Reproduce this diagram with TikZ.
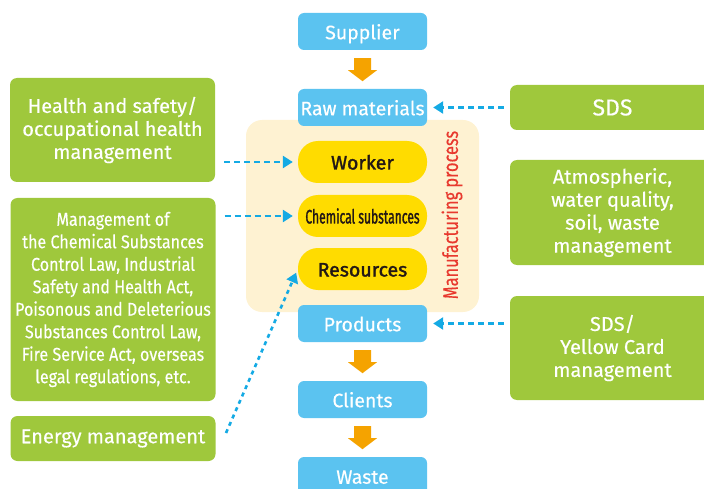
\documentclass[tikz,border=0pt]{standalone}
\usepackage{fontspec}
\setmainfont[FakeBold=0.35]{Fira Sans}
\newfontfamily\condfont[FakeStretch=0.87,FakeBold=0.35]{Fira Sans}
\newfontfamily\mpfont[FakeStretch=0.78,FakeBold=0.3]{Fira Sans}
\newfontfamily\yellowfont[FakeBold=1.6]{Fira Sans}
\newfontfamily\narrowfont[FakeStretch=0.62,FakeBold=1.4]{Fira Sans}
\usetikzlibrary{arrows.meta}
\definecolor{bluebox}{HTML}{5BC3F0}
\definecolor{greenbox}{HTML}{9FC83C}
\definecolor{yellowbox}{HTML}{FFDC00}
\definecolor{beige}{HTML}{FEF2D2}
\definecolor{arrowc}{HTML}{F5A300}
\definecolor{redc}{HTML}{E8392E}
\definecolor{linkc}{HTML}{14AAE4}
\definecolor{darktext}{HTML}{231815}
\tikzset{
  bluebox/.style={fill=bluebox, rounded corners=6, minimum width=129, minimum height=37,
    inner sep=0, text=white, text height=15.5, text depth=0, font=\fontsize{19.5}{22}\selectfont},
  greenbox/.style={fill=greenbox, rounded corners=7, minimum width=205, inner sep=0,
    text=white, align=center, font=\fontsize{20}{23}\selectfont},
  yellowbox/.style={fill=yellowbox, rounded corners=20, minimum width=129, minimum height=42,
    inner sep=0, text=darktext, text height=15, text depth=0, font=\yellowfont\fontsize{19.5}{22}\selectfont},
  link/.style={draw=linkc, line width=2.6, dash pattern=on 6 off 4,
    -{Triangle[length=10pt,width=12pt]}},
  downarrow/.pic={\fill[arrowc] (-8.5,0) -- (8.5,0) -- (8.5,12) -- (14.5,12) -- (0,23)
    -- (-14.5,12) -- (-8.5,12) -- cycle;}
}
\begin{document}
\begin{tikzpicture}[x=1pt,y=-1pt]
\useasboundingbox (0,0) rectangle (704,489);
% manufacturing process background
\node[fill=beige, rounded corners=16, minimum width=233, minimum height=192, inner sep=0]
  (mfg) at (362.5,216) {};
\node[rotate=90, text=redc, inner sep=0, font=\mpfont\fontsize{21}{22}\selectfont]
  (mplabel) at (452,215) {Manufacturing process};
% flow boxes
\node[bluebox] (supplier) at (362.5,31.5) {Supplier};
\node[bluebox] (raw) at (362.5,107.5) {Raw materials};
\node[yellowbox] (worker) at (362.5,162) {Worker};
\node[yellowbox, font=\narrowfont\fontsize{19.5}{22}\selectfont] (chem) at (362.5,216) {Chemical substances};
\node[yellowbox] (res) at (362.5,269) {Resources};
\node[bluebox] (products) at (362.5,323.5) {Products};
\node[bluebox] (clients) at (362.5,399.5) {Clients};
\node[bluebox, minimum height=38] (waste) at (362.5,476) {Waste};
% orange arrows
\path (supplier.south) ++(0,8) pic {downarrow};
\path (products.south) ++(0,8) pic {downarrow};
\path (clients.south) ++(0,8) pic {downarrow};
% left boxes
\node[greenbox, minimum height=104] (health) at (112.5,130)
  {Health and safety/\\occupational health\\management};
\node[greenbox, minimum height=203, font=\condfont\fontsize{18.5}{22.5}\selectfont] (mgmt) at (113,299.5)
  {Management of\\the Chemical Substances\\Control Law, Industrial\\Safety and Health Act,\\Poisonous and Deleterious\\Substances Control Law,\\Fire Service Act, overseas\\legal regulations, etc.};
\node[greenbox, minimum height=45] (energy) at (113,438.5) {Energy management};
% right boxes
\node[greenbox, minimum height=45, font=\fontsize{23}{24}\selectfont] (sds) at (612.5,107.5) {SDS};
\node[greenbox, minimum height=105] (atmo) at (612.5,212.5)
  {Atmospheric,\\water quality,\\soil, waste\\management};
\node[greenbox, minimum height=104] (sdsy) at (612.5,348)
  {SDS/\\Yellow Card\\management};
% dashed connectors
\draw[link, shorten <=6, shorten >=6] (sds.west) -- (raw.east);
\draw[link, shorten <=6, shorten >=6] (sdsy.west |- products.east) -- (products.east);
\draw[link, shorten <=9, shorten >=5] (health.east |- worker.west) -- (worker.west);
\draw[link, shorten <=9, shorten >=5] (mgmt.east |- chem.west) -- (chem.west);
\coordinate (estart) at (226,433);
\draw[link, dash pattern=on 4 off 4, shorten >=4] (estart) -- (res.west);
\end{tikzpicture}
\end{document}
